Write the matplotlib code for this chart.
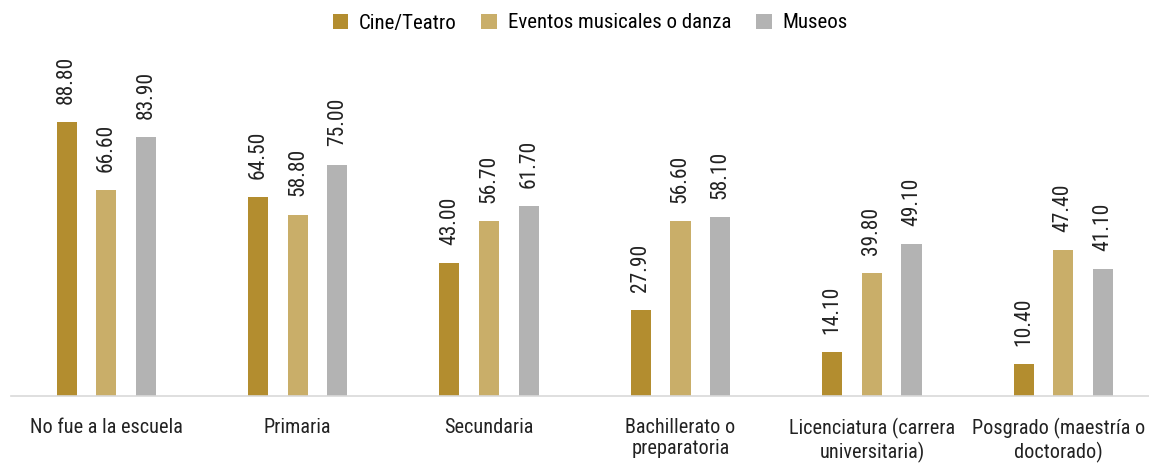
import matplotlib.pyplot as plt
import matplotlib.transforms as mtransforms
import numpy as np

plt.rcParams['font.family'] = ['Roboto Condensed', 'DejaVu Sans']

categories = ['No fue a la escuela', 'Primaria', 'Secundaria', 'Bachillerato o\npreparatoria',
              'Licenciatura (carrera\nuniversitaria)', 'Posgrado (maestría o\ndoctorado)']
cine = [88.8, 64.5, 43.0, 27.9, 14.1, 10.4]
eventos = [66.6, 58.8, 56.7, 56.6, 39.8, 47.4]
museos = [83.9, 75.0, 61.7, 58.1, 49.1, 41.1]
series = [('Cine/Teatro', cine, '#B38D2F'),
          ('Eventos musicales o danza', eventos, '#C9AE69'),
          ('Museos', museos, '#B3B3B3')]

fig = plt.figure(figsize=(11.49, 4.66), dpi=100)
W, H = 1149, 466
left, right = 10.5, 1159
bottom, ppu = 396, 3.086
ax = fig.add_axes([left / W, (H - bottom) / H, (right - left) / W, 100 * ppu / H])

x = np.arange(len(categories))
off = 0.207
w = 0.105
for i, (name, vals, col) in enumerate(series):
    bars = ax.bar(x + (i - 1) * off, vals, w, color=col, label=name)
    for b, v in zip(bars, vals):
        ax.annotate('%.2f' % v, (b.get_x() + b.get_width() / 2, v), xytext=(0, 13),
                    textcoords='offset points', rotation=90, ha='center', va='bottom',
                    fontsize=15.5, color='#222222', annotation_clip=False)

ax.set_xlim(-0.5, 5.5)
ax.set_ylim(0, 100)
for s in ['top', 'right', 'left']:
    ax.spines[s].set_visible(False)
ax.spines['bottom'].set_color('#D9D9D9')
ax.spines['bottom'].set_linewidth(1.2)
ax.set_yticks([])
ax.set_xticks(x)
ax.set_xticklabels(categories, fontsize=14.6, color='#222222', linespacing=1.15)
ax.tick_params(axis='x', length=0, pad=16)
# nudge the last label so it stays inside the figure
last = ax.get_xticklabels()[-1]
last.set_transform(last.get_transform() + mtransforms.ScaledTranslation(-5 / 100, 0, fig.dpi_scale_trans))

fig.legend(loc='center', bbox_to_anchor=(590 / W, 1 - 23 / H), ncol=3, frameon=False,
           fontsize=15, handlelength=0.75, handleheight=0.75, handletextpad=0.5, columnspacing=1.2)

fig.savefig('out.png', dpi=100)
